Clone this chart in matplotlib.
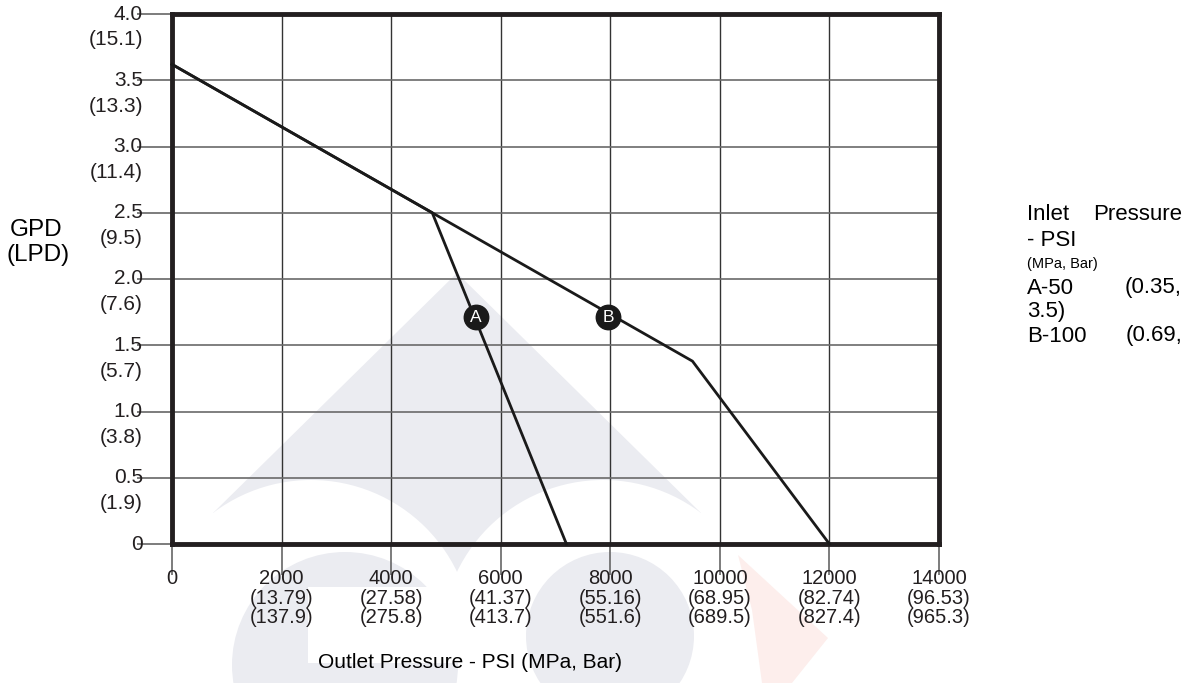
import matplotlib
matplotlib.use("Agg")
import matplotlib.pyplot as plt
from matplotlib.patches import Polygon, Circle, Rectangle
from matplotlib.transforms import blended_transform_factory

plt.rcParams["font.family"] = ["Liberation Sans", "DejaVu Sans"]

# data
x_ticks = [0, 2000, 4000, 6000, 8000, 10000, 12000, 14000]
x_mpa = ["", "(13.79)", "(27.58)", "(41.37)", "(55.16)", "(68.95)", "(82.74)", "(96.53)"]
x_bar = ["", "(137.9)", "(275.8)", "(413.7)", "(551.6)", "(689.5)", "(827.4)", "(965.3)"]
y_ticks = [0.0, 0.5, 1.0, 1.5, 2.0, 2.5, 3.0, 3.5, 4.0]
y_lpd = ["", "(1.9)", "(3.8)", "(5.7)", "(7.6)", "(9.5)", "(11.4)", "(13.3)", "(15.1)"]

curve_a_x = [0, 4750, 7200]
curve_a_y = [3.62, 2.5, 0.0]
curve_b_x = [0, 4750, 9500, 12000]
curve_b_y = [3.62, 2.5, 1.38, 0.0]
marker_names = ["A", "B"]
marker_x = [5550, 7960]
marker_y = [1.71, 1.71]

W, H = 1197, 683
fig = plt.figure(figsize=(W / 100, H / 100), dpi=100)

# faint logo watermark, drawn in a background axes measured in pixels
bg = fig.add_axes([0, 0, 1, 1], zorder=0)
bg.set_xlim(0, W)
bg.set_ylim(H, 0)
bg.axis("off")
wm = "#ebecf1"
bg.add_patch(Polygon([(457, 273), (213, 513), (457, 620), (701, 513)],
                     facecolor=wm, edgecolor="none"))
bg.add_patch(Circle((311, 642), 162, facecolor="white", edgecolor="none"))
bg.add_patch(Circle((603, 642), 162, facecolor="white", edgecolor="none"))
bg.add_patch(Circle((345, 665), 113, facecolor=wm, edgecolor="none"))
bg.add_patch(Rectangle((308, 587), 160, 76, facecolor="white", edgecolor="none"))
bg.add_patch(Circle((610, 636), 84, facecolor=wm, edgecolor="none"))
bg.add_patch(Polygon([(738, 555), (828, 638), (792, 683), (762, 683), (752, 610)],
                     facecolor="#fdeeec", edgecolor="none"))

ax = fig.add_axes([172 / W, 1 - 544 / H, (939 - 172) / W, (544 - 14) / H], zorder=1)
ax.patch.set_alpha(0)
ax.set_xlim(0, 14000)
ax.set_ylim(0, 4.0)

for xv in x_ticks[1:-1]:
    ax.axvline(xv, color="#333333", lw=1.0, zorder=1)
for yv in y_ticks[1:-1]:
    ax.axhline(yv, color="#6a6a6a", lw=1.2, zorder=1)

for s in ax.spines.values():
    s.set_linewidth(3.5)
    s.set_color("#231f20")

ax.set_xticks(x_ticks)
ax.set_yticks(y_ticks)
ax.set_xticklabels([])
ax.set_yticklabels([])
ax.tick_params(axis="x", direction="out", length=22, width=1.2, color="#666666")
ax.tick_params(axis="y", direction="out", length=25, width=1.2, color="#666666")

ax.plot(curve_a_x, curve_a_y, color="#1a1a1a", lw=2.0, zorder=3, clip_on=False)
ax.plot(curve_b_x, curve_b_y, color="#1a1a1a", lw=2.0, zorder=3, clip_on=False)
ax.scatter(marker_x, marker_y, s=310, color="#1a1a1a", zorder=4)
for name, mx, my in zip(marker_names, marker_x, marker_y):
    ax.text(mx, my, name, color="white", ha="center", va="center",
            fontsize=12.5, zorder=5)

tc = "#231f20"
ytr = blended_transform_factory(ax.transAxes, ax.transData)
for yv, lpd in zip(y_ticks, y_lpd):
    ax.text(-0.038, yv, f"{yv:.1f}" if yv else "0", transform=ytr,
            ha="right", va="center", fontsize=15, color=tc)
    if lpd:
        ax.text(-0.038, yv - 0.195, lpd, transform=ytr,
                ha="right", va="center", fontsize=15, color=tc)

xtr = blended_transform_factory(ax.transData, ax.transAxes)
for xv, mpa, bar in zip(x_ticks, x_mpa, x_bar):
    ax.text(xv, -0.065, str(xv), transform=xtr, ha="center", va="center",
            fontsize=14.5, color=tc)
    if mpa:
        ax.text(xv, -0.102, mpa, transform=xtr, ha="center", va="center",
                fontsize=14.5, color=tc)
        ax.text(xv, -0.139, bar, transform=xtr, ha="center", va="center",
                fontsize=14.5, color=tc)


def px(x, y):
    return x / W, 1 - y / H


fig.text(*px(470, 662), "Outlet Pressure - PSI (MPa, Bar)", ha="center",
         va="center", fontsize=15, color="black")
fig.text(*px(10, 230), "GPD", ha="left", va="center", fontsize=17.5)
fig.text(*px(7, 255), "(LPD)", ha="left", va="center", fontsize=17.5)

# side note, justified like the original text block
side_left = [("Inlet", 215, 16), ("- PSI", 240, 16), ("(MPa, Bar)", 264, 10.5),
             ("A-50", 288, 16), ("3.5)", 312, 16), ("B-100", 336, 16)]
side_right = [("Pressure", 215), ("(0.35,", 288), ("(0.69,", 336)]
for txt, yy, fs in side_left:
    fig.text(*px(1027, yy), txt, ha="left", va="center", fontsize=fs, color="black")
for txt, yy in side_right:
    fig.text(*px(1182, yy), txt, ha="right", va="center", fontsize=16, color="black")

fig.savefig("out.png", dpi=100)
